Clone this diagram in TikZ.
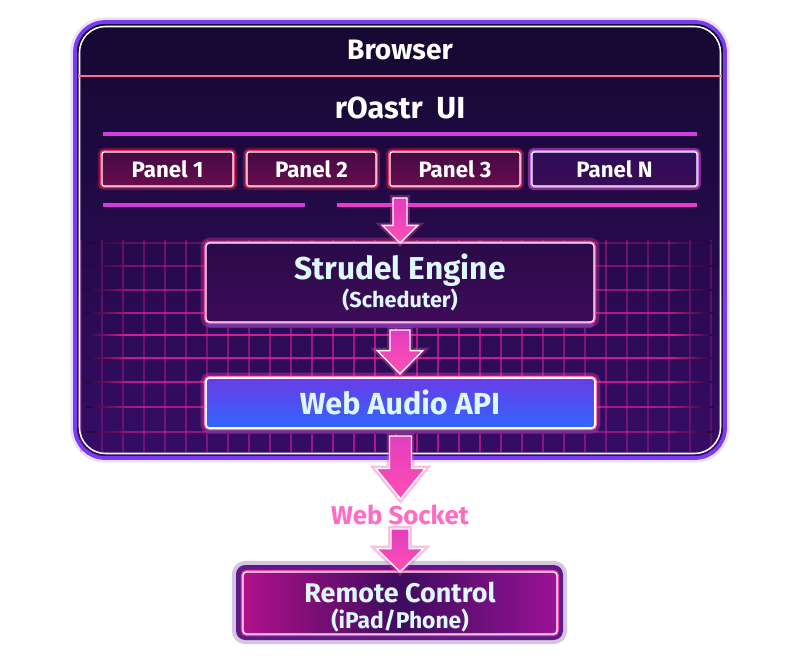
\documentclass[tikz,border=0pt]{standalone}
\usepackage{fontspec}
\setmainfont{Fira Sans}
\usetikzlibrary{calc}
\definecolor{bgtop}{HTML}{140830}
\definecolor{bgmid}{HTML}{1F0A47}
\definecolor{bgbot}{HTML}{360C66}
\definecolor{gridbg}{HTML}{260A52}
\definecolor{frame}{HTML}{7A3CF2}
\definecolor{sepline}{HTML}{FF6F8C}
\definecolor{magline}{HTML}{D23CD8}
\definecolor{magline2}{HTML}{E83ACB}
\definecolor{gridpink}{HTML}{E8209A}
\definecolor{panelred}{HTML}{FF2F66}
\definecolor{panelfillA}{HTML}{440A44}
\definecolor{panelfillB}{HTML}{680C4E}
\definecolor{panelNline}{HTML}{C46CFF}
\definecolor{panelNfill}{HTML}{2E0C58}
\definecolor{neonpink}{HTML}{FF3FA8}
\definecolor{engA}{HTML}{2A0A48}
\definecolor{engB}{HTML}{3E0B5A}
\definecolor{slab}{HTML}{3A30A8}
\definecolor{waTop}{HTML}{6A3CE6}
\definecolor{waBot}{HTML}{2F66FF}
\definecolor{cyantext}{HTML}{DDF8FF}
\definecolor{arrowA}{HTML}{E33DBE}
\definecolor{arrowB}{HTML}{FF4FB4}
\definecolor{sockpink}{HTML}{FF6CC6}
\definecolor{rcframe}{HTML}{5E1A86}
\definecolor{rcleft}{HTML}{B0108C}
\definecolor{rcmid}{HTML}{3E0C5E}
\definecolor{rcright}{HTML}{9A1296}
\newcommand\PX{0.03cm}
\newcommand\barrow[5]{%
  \path[blockarrow] let \p1=#1, \p2=#2 in
    ({\x1-#3},\y1) -- ({\x1+#3},\y1) -- ({\x1+#3},{\y2+#5}) -- ({\x1+#4},{\y2+#5})
    -- (\x1,\y2) -- ({\x1-#4},{\y2+#5}) -- ({\x1-#3},{\y2+#5}) -- cycle;}
\begin{document}
\begin{tikzpicture}[x=0.03cm,y=-0.03cm,
  every node/.style={inner sep=0pt, outer sep=0pt},
  title/.style={text=white, font=\bfseries\fontsize{#1}{#1}\selectfont},
  boxtitle/.style={text=cyantext, font=\bfseries\fontsize{#1}{#1}\selectfont},
  boxsub/.style={text=cyantext, font=\bfseries\fontsize{#1}{#1}\selectfont},
  gridline/.style={gridpink, line width=1.1pt},
  panel/.style={rounded corners=2pt, minimum height=34*\PX, top color=panelfillA, bottom color=panelfillB,
    draw=white, line width=1pt,
    preaction={draw=panelred, opacity=0.3, line width=7pt},
    preaction={draw=panelred, line width=3.4pt},
    text=white, font=\bfseries\fontsize{19}{19}\selectfont},
  panelN/.style={panel, top color=panelNfill, bottom color=panelNfill!80!panelfillB,
    preaction={draw=panelNline, opacity=0.3, line width=7pt},
    preaction={draw=panelNline, line width=3.4pt}},
  engine/.style={rounded corners=3pt, top color=engA, bottom color=engB, draw=white, line width=1.1pt,
    preaction={fill=slab, transform canvas={yshift=-5pt}},
    preaction={draw=neonpink, opacity=0.3, line width=9pt},
    preaction={draw=neonpink, line width=3.5pt}},
  wabox/.style={rounded corners=3pt, top color=waTop, bottom color=waBot, draw=white, line width=1.3pt,
    preaction={fill=slab!80!black, transform canvas={yshift=-5pt}},
    preaction={draw=neonpink, opacity=0.35, line width=9pt},
    preaction={draw=neonpink!70!white, line width=3.5pt}},
  rcouter/.style={rounded corners=8pt, fill=rcframe, preaction={draw=rcframe, opacity=0.25, line width=7pt}},
  rcinner/.style={rounded corners=3pt, left color=rcleft, right color=rcright, middle color=rcmid,
    draw=white, line width=1.2pt, preaction={draw=neonpink, line width=3.5pt}},
  blockarrow/.style={top color=arrowA, bottom color=arrowB, draw=white, line width=1.2pt, line join=miter,
    preaction={draw=neonpink, opacity=0.35, line width=5pt}}
]
\useasboundingbox (0,0) rectangle (800,664);
\fill[white] (0,0) rectangle (800,664);

% browser body
\path[preaction={draw=frame, opacity=0.15, line width=8pt}, top color=bgtop, middle color=bgmid, bottom color=bgbot, rounded corners=30*\PX]
  (75,22) rectangle (725,458);

% grid
\foreach \i in {0,...,30}{
  \pgfmathsetmacro\gx{81+21*\i}
  \pgfmathsetmacro\gop{0.7-0.45*abs(\gx-400)/320}
  \draw[gridline, opacity=\gop] (\gx,240) -- (\gx,452);
}
\foreach \yy/\op in {243/0.3,266/0.4,290/0.55,313/0.7,335/0.9,358/0.8,382/0.75,407/0.65,432/0.5}{
  \draw[gridline, opacity=\op] (125,\yy) -- (675,\yy);
  \fill[opacity=\op, left color=gridbg, right color=gridpink] (86,\yy-0.65) rectangle (125,\yy+0.65);
  \fill[opacity=\op, left color=gridpink, right color=gridbg] (675,\yy-0.65) rectangle (714,\yy+0.65);
}

% frame
\draw[frame, line width=3.2pt, rounded corners=30*\PX] (75,22) rectangle (725,458);
\draw[white, line width=1.3pt, rounded corners=26*\PX] (79.5,26.5) rectangle (720.5,453.5);

% header separator and rules
\draw[sepline, line width=1.6pt] (78,76) -- (722,76);
\draw[magline, line width=2.6pt] (103,134) -- (697,134);
\draw[magline, line width=2.6pt] (103,205) -- (305,205);
\draw[magline2, line width=2.6pt] (337,205) -- (697,205);

% titles
\node[title=24] (browser) at (400,50) {Browser};
\node[title=26] (ui) at (400,108) {rOastr\hspace{0.45em}UI};

% panels
\node[panel, minimum width=131*\PX] (p1) at (167.5,169) {Panel 1};
\node[panel, minimum width=129*\PX] (p2) at (311.5,169) {Panel 2};
\node[panel, minimum width=130*\PX] (p3) at (455,169) {Panel 3};
\node[panelN, minimum width=165*\PX] (pn) at (614.5,169) {Panel N};

% engine
\node[engine, minimum width=388*\PX, minimum height=79*\PX] (strudel) at (400,282.5) {};
\node[boxtitle=27] (strudelT) at (400,270) {Strudel Engine};
\node[boxsub=18.5] (strudelS) at (400,300) {(Scheduter)};

% web audio
\node[wabox, minimum width=389*\PX, minimum height=50*\PX] (webaudio) at (400.5,403) {};
\node[boxtitle=26] (webaudioT) at (400,402) {Web Audio API};

% web socket label
\node[text=sockpink, font=\bfseries\fontsize{22}{22}\selectfont] (wsock) at (400,515) {Web Socket};

% remote control
\node[rcouter, minimum width=327*\PX, minimum height=75*\PX] (rcout) at (399.5,602.5) {};
\node[rcinner, minimum width=314*\PX, minimum height=62*\PX] (rcin) at (400,603) {};
\node[boxtitle=23] (rcT) at (400,592) {Remote Control};
\node[boxsub=19.5] (rcS) at (400,620) {(iPad/Phone)};

% arrows
\coordinate (uiout) at (400,198);
\barrow{(uiout)}{(strudel.north)}{6pt}{15pt}{15pt}
\barrow{($(strudel.south)+(0,8)$)}{($(webaudio.north)+(0,-4)$)}{8.5pt}{19.5pt}{20pt}
\barrow{($(webaudio.south)+(0,8)$)}{($(wsock.north)+(0,-6)$)}{9.4pt}{21pt}{26pt}
\barrow{($(wsock.south)+(0,4)$)}{(rcin.north)}{7.7pt}{20pt}{20pt}
\end{tikzpicture}
\end{document}
